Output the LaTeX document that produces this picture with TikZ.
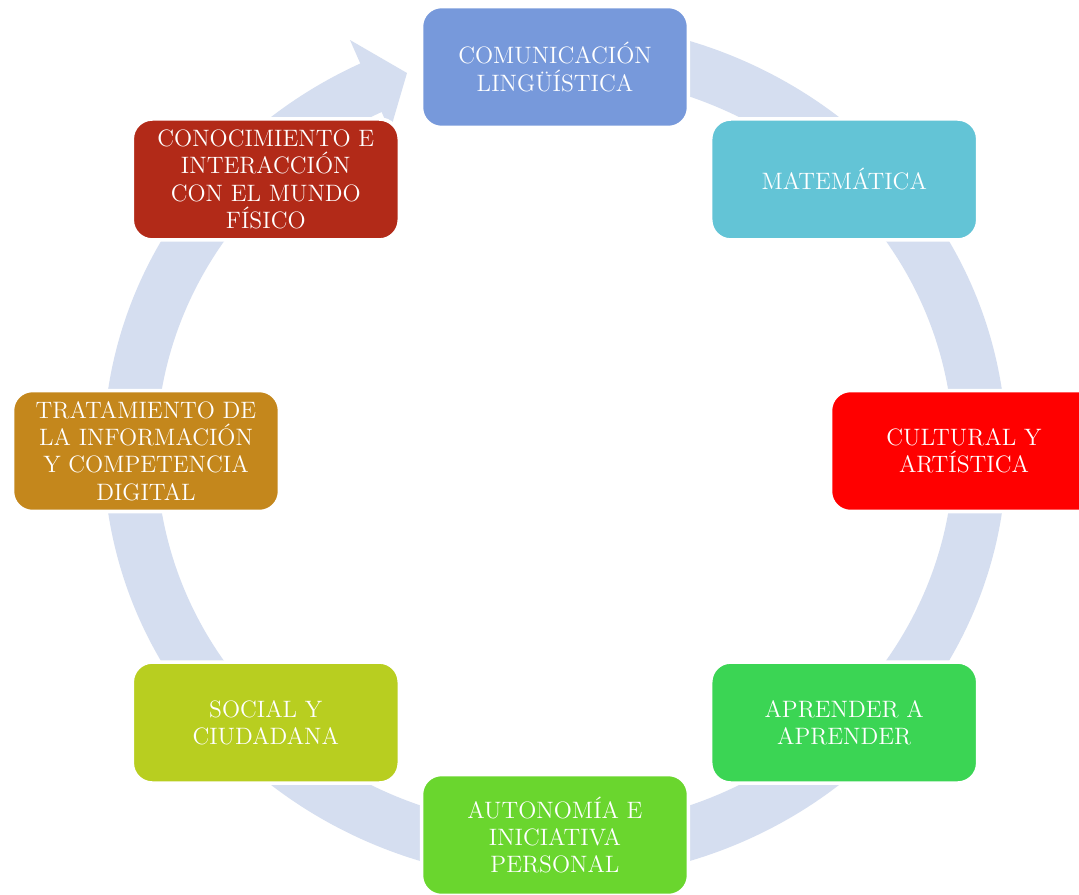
\documentclass[tikz,border=0pt]{standalone}
\usepackage{fontspec}
\usepackage{tikz}
\definecolor{ringblue}{RGB}{213,222,240}
\definecolor{comblue}{RGB}{119,153,219}
\definecolor{matcyan}{RGB}{99,196,214}
\definecolor{cultred}{RGB}{255,0,0}
\definecolor{aprgreen}{RGB}{59,213,84}
\definecolor{autgreen}{RGB}{106,214,46}
\definecolor{socolive}{RGB}{184,206,32}
\definecolor{tratochre}{RGB}{196,135,28}
\definecolor{conred}{RGB}{178,42,24}
\tikzset{comp/.style={draw=white,line width=2pt,rounded corners=0.4cm,
  minimum width=5.34cm,minimum height=2.42cm,inner sep=0pt,
  text=white,align=center,font=\fontsize{13.5}{15.6}\selectfont}}
\def\compnode#1{\node[comp,fill=#1]}

\begin{document}
\begin{tikzpicture}[x=0.02cm,y=0.02cm]
\useasboundingbox (-555,-443) rectangle (524,451);
\clip (-555,-443) rectangle (524,451);
\fill[white] (-555,-443) rectangle (524,451);
% cycle ring with its head
\draw[ringblue,line width=1.06cm] (100:425 and 403)
  arc[start angle=100,end angle=-245,x radius=425,y radius=403];
\coordinate (tip) at (-148,378);
\coordinate (hout) at (-205,411);
\coordinate (hin) at (-165,320);
\fill[ringblue] (tip) -- (hout) -- (hin) -- cycle;
% competences
\compnode{comblue} (ling) at (90:409 and 384) {COMUNICACIÓN\\LINGÜÍSTICA};
\compnode{matcyan} (mat) at (45:409 and 384) {MATEMÁTICA};
\compnode{cultred} (cult) at (0:409 and 384) {CULTURAL Y\\ARTÍSTICA};
\compnode{aprgreen} (apr) at (-45:409 and 384) {APRENDER A\\APRENDER};
\compnode{autgreen} (aut) at (-90:409 and 384) {AUTONOMÍA E\\INICIATIVA\\PERSONAL};
\compnode{socolive} (soc) at (-135:409 and 384) {SOCIAL Y\\CIUDADANA};
\compnode{tratochre} (trat) at (180:409 and 384) {TRATAMIENTO DE\\LA INFORMACIÓN\\Y COMPETENCIA\\DIGITAL};
\compnode{conred} (con) at (135:409 and 384) {CONOCIMIENTO E\\INTERACCIÓN\\CON EL MUNDO\\FÍSICO};
\end{tikzpicture}
\end{document}
